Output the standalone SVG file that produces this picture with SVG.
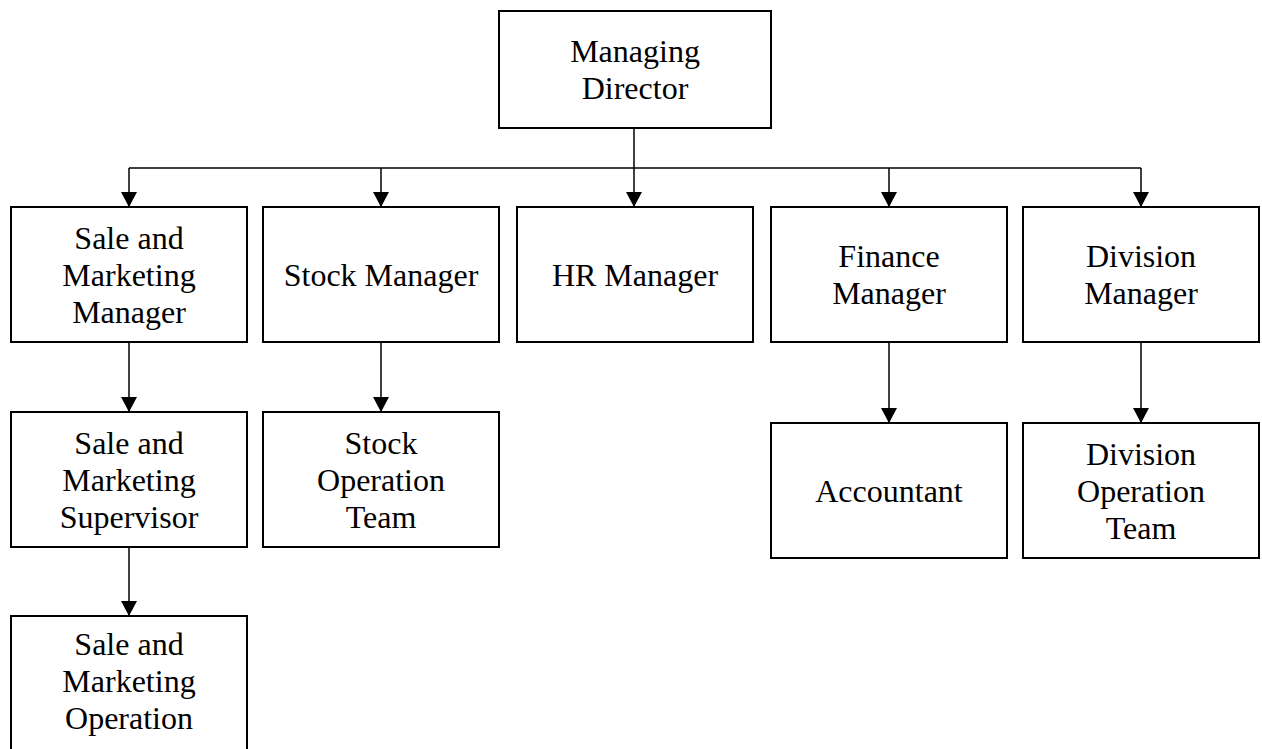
<svg xmlns="http://www.w3.org/2000/svg" width="1262" height="749" viewBox="0 0 1262 749">
<style>
.box{fill:#fff;stroke:#000;stroke-width:2}
.lbl{font-family:"Liberation Serif","Times New Roman",serif;font-size:32px;fill:#000;text-anchor:middle}
.con{fill:none;stroke:#000;stroke-width:1.5}
</style>
<defs>
<marker id="arr" markerUnits="userSpaceOnUse" markerWidth="16" markerHeight="16" viewBox="0 0 15 16" refX="15" refY="8" orient="auto">
<path d="M0,0 L15,8 L0,16 Z" fill="#000"/>
</marker>
</defs>
<rect width="1262" height="749" fill="#fff"/>
<g id="connectors">
<path class="con" d="M634,128 V207" marker-end="url(#arr)"/>
<path class="con" d="M129,168 H1141"/>
<path class="con" d="M129,168 V207" marker-end="url(#arr)"/>
<path class="con" d="M381,168 V207" marker-end="url(#arr)"/>
<path class="con" d="M889,168 V207" marker-end="url(#arr)"/>
<path class="con" d="M1141,168 V207" marker-end="url(#arr)"/>
<path class="con" d="M129,342 V412" marker-end="url(#arr)"/>
<path class="con" d="M381,342 V412" marker-end="url(#arr)"/>
<path class="con" d="M889,342 V423" marker-end="url(#arr)"/>
<path class="con" d="M1141,342 V423" marker-end="url(#arr)"/>
<path class="con" d="M129,547 V616" marker-end="url(#arr)"/>
</g>
<g id="managing-director">
<rect class="box" x="499" y="11" width="272" height="117"/>
<text class="lbl" x="635" y="62">Managing</text>
<text class="lbl" x="635" y="99">Director</text>
</g>
<g id="sale-marketing-manager">
<rect class="box" x="11" y="207" width="236" height="135"/>
<text class="lbl" x="129" y="249">Sale and</text>
<text class="lbl" x="129" y="286">Marketing</text>
<text class="lbl" x="129" y="323">Manager</text>
</g>
<g id="stock-manager">
<rect class="box" x="263" y="207" width="236" height="135"/>
<text class="lbl" x="381" y="286">Stock Manager</text>
</g>
<g id="hr-manager">
<rect class="box" x="517" y="207" width="236" height="135"/>
<text class="lbl" x="635" y="286">HR Manager</text>
</g>
<g id="finance-manager">
<rect class="box" x="771" y="207" width="236" height="135"/>
<text class="lbl" x="889" y="267">Finance</text>
<text class="lbl" x="889" y="304">Manager</text>
</g>
<g id="division-manager">
<rect class="box" x="1023" y="207" width="236" height="135"/>
<text class="lbl" x="1141" y="267">Division</text>
<text class="lbl" x="1141" y="304">Manager</text>
</g>
<g id="sale-marketing-supervisor">
<rect class="box" x="11" y="412" width="236" height="135"/>
<text class="lbl" x="129" y="454">Sale and</text>
<text class="lbl" x="129" y="491">Marketing</text>
<text class="lbl" x="129" y="528">Supervisor</text>
</g>
<g id="stock-operation-team">
<rect class="box" x="263" y="412" width="236" height="135"/>
<text class="lbl" x="381" y="454">Stock</text>
<text class="lbl" x="381" y="491">Operation</text>
<text class="lbl" x="381" y="528">Team</text>
</g>
<g id="accountant">
<rect class="box" x="771" y="423" width="236" height="135"/>
<text class="lbl" x="889" y="502">Accountant</text>
</g>
<g id="division-operation-team">
<rect class="box" x="1023" y="423" width="236" height="135"/>
<text class="lbl" x="1141" y="465">Division</text>
<text class="lbl" x="1141" y="502">Operation</text>
<text class="lbl" x="1141" y="539">Team</text>
</g>
<g id="sale-marketing-operation">
<rect class="box" x="11" y="616" width="236" height="140"/>
<text class="lbl" x="129" y="655">Sale and</text>
<text class="lbl" x="129" y="692">Marketing</text>
<text class="lbl" x="129" y="729">Operation</text>
</g>
</svg>
